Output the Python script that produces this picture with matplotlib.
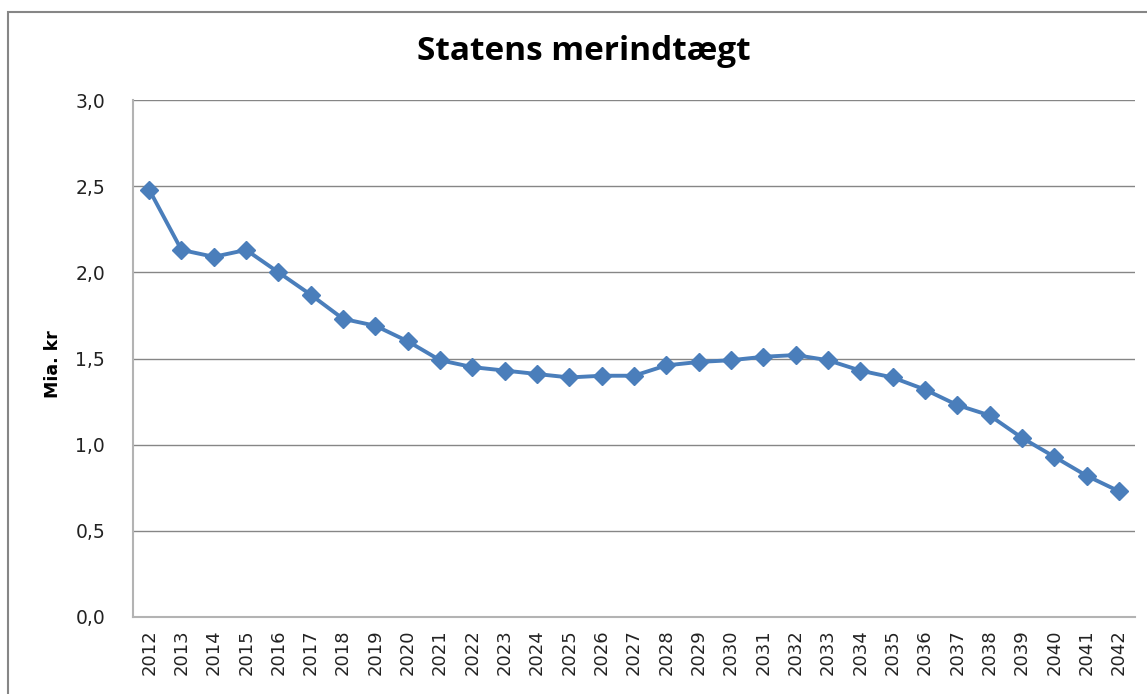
import matplotlib
matplotlib.use("Agg")
import matplotlib.pyplot as plt
from matplotlib.patches import Rectangle

years = [str(y) for y in range(2012, 2043)]
values = [2.48, 2.13, 2.09, 2.13, 2.00, 1.87, 1.73, 1.69, 1.60, 1.49,
          1.45, 1.43, 1.41, 1.39, 1.40, 1.40, 1.46, 1.48, 1.49, 1.51,
          1.52, 1.49, 1.43, 1.39, 1.32, 1.23, 1.17, 1.04, 0.93, 0.82, 0.73]
yticks = [0.0, 0.5, 1.0, 1.5, 2.0, 2.5, 3.0]
ytick_labels = ["0,0", "0,5", "1,0", "1,5", "2,0", "2,5", "3,0"]
title = "Statens merindtægt"
ylabel = "Mia. kr"

W, H = 1147, 694
fig = plt.figure(figsize=(W / 100, H / 100), dpi=100)
fig.patch.set_facecolor("white")

# outer chart border
fig.patches.append(Rectangle((8 / W, -0.05), 1.2, (H - 12) / H + 0.05,
                             transform=fig.transFigure, fill=False,
                             edgecolor="#868686", linewidth=1.5))

ax = fig.add_axes([133 / W, 77 / H, 1002 / W, 517 / H])
x = list(range(len(years)))
ax.plot(x, values, color="#4A7EBB", linewidth=2.8, marker="D",
        markersize=9, markerfacecolor="#4A7EBB", markeredgecolor="#4A7EBB",
        zorder=3)

ax.set_xlim(-0.5, len(years) - 0.5)
ax.set_ylim(0, 3.0)
ax.set_yticks(yticks)
ax.set_yticklabels(ytick_labels, fontsize=13.5, color="#222222")
ax.set_xticks(x)
ax.set_xticklabels(years, rotation=90, fontsize=13, color="#222222")
ax.tick_params(axis="y", length=0, pad=20)
ax.tick_params(axis="x", length=0, pad=9)

ax.grid(axis="y", color="#868686", linewidth=1.0)
ax.set_axisbelow(True)
for s in ["top", "right"]:
    ax.spines[s].set_visible(False)
for s in ["left", "bottom"]:
    ax.spines[s].set_color("#B3B3B3")
    ax.spines[s].set_linewidth(1.5)

fig.text(584 / W, 1 - 52 / H, title, ha="center", va="center",
         fontsize=24, fontweight="bold", family="Open Sans")
fig.text(53 / W, 1 - 364 / H, ylabel, ha="center", va="center",
         rotation=90, fontsize=12.5, fontweight="bold")

fig.savefig("out.png", dpi=100)
